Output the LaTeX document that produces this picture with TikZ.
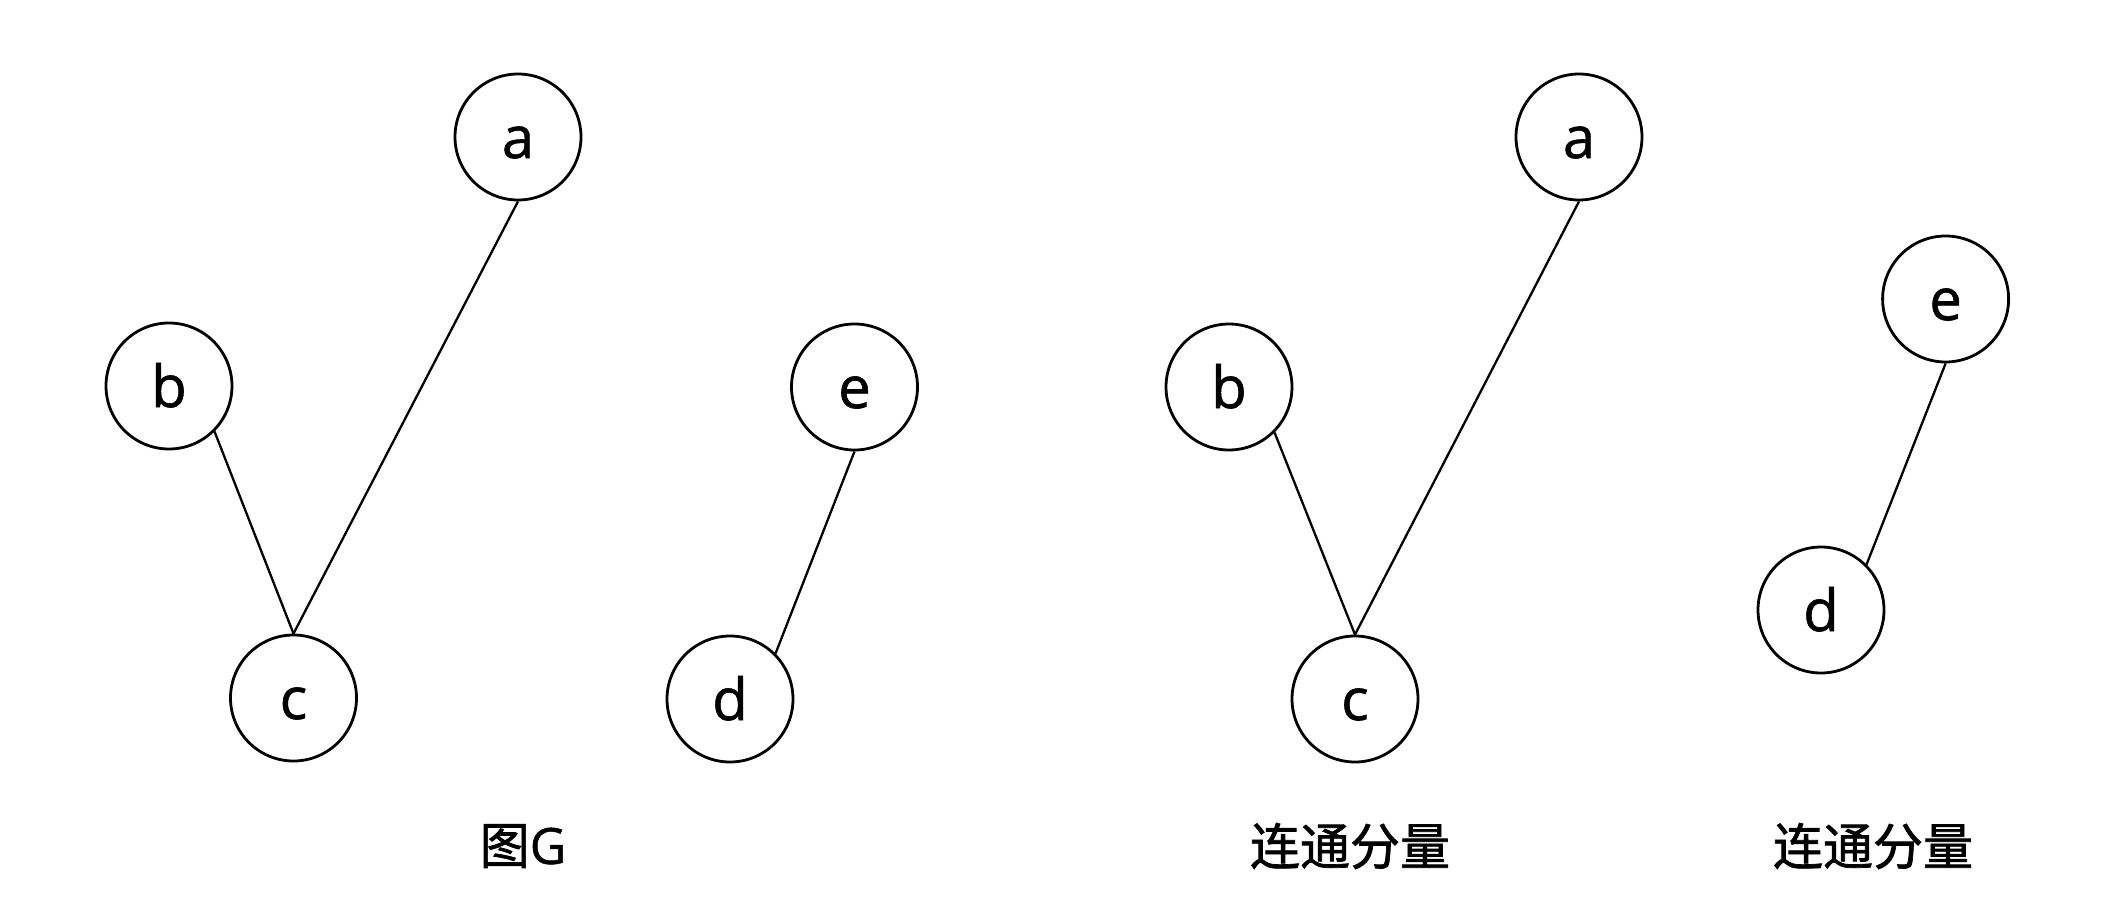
\documentclass[tikz,border=0pt]{standalone}
\usepackage{fontspec}
\setmainfont{Open Sans}[FakeBold=1.0]
\newfontfamily\cjk{Noto Sans CJK SC}[FakeBold=1.4]
\begin{document}
\begin{tikzpicture}[x=0.5pt,y=-0.5pt,
  vert/.style={circle,draw,line width=1.4pt,minimum size=63pt,inner sep=0pt,
    text height=21pt,text depth=0pt,font=\fontsize{29}{29}\selectfont},
  edge/.style={line width=1.15pt},
  lab/.style={font=\fontsize{25}{25}\selectfont}]
\useasboundingbox (0,0) rectangle (2120,904);
% graph G
\node[vert] (a) at (518,137) {a};
\node[vert] (b) at (169,386) {b};
\node[vert] (c) at (293.5,698) {c};
\node[vert] (d) at (730,699) {d};
\node[vert] (e) at (854.5,387) {e};
\draw[edge] (a.south) -- (c.north);
\draw[edge] (b.south east) -- (c.north);
\draw[edge] (e.south) -- (d.north east);
% component 1
\node[vert] (a2) at (1579,137) {a};
\node[vert] (b2) at (1229,387) {b};
\node[vert] (c2) at (1355,699) {c};
\draw[edge] (a2.south) -- (c2.north);
\draw[edge] (b2.south east) -- (c2.north);
% component 2
\node[vert] (e2) at (1945.6,299) {e};
\node[vert] (d2) at (1821,610) {d};
\draw[edge] (e2.south) -- (d2.north east);
% labels
\node[lab] (l1) at (523,846) {{\cjk 图}G};
\node[lab] (l2) at (1350,846) {\cjk 连通分量};
\node[lab] (l3) at (1873,846) {\cjk 连通分量};
\end{tikzpicture}
\end{document}
